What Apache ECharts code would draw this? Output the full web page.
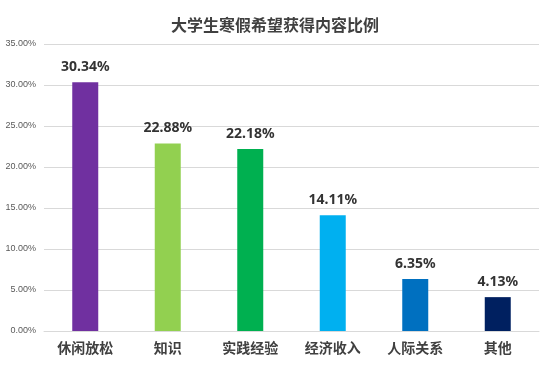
<!DOCTYPE html>
<html><head><meta charset="utf-8">
<script src="https://cdn.jsdelivr.net/npm/echarts@6/dist/echarts.min.js"></script>
<style>html,body{margin:0;padding:0;background:#fff}#c{width:550px;height:366px}</style>
</head><body><div id="c"></div>
<script>
const title = '大学生寒假希望获得内容比例';
const categories = ['休闲放松','知识','实践经验','经济收入','人际关系','其他'];
const values = [30.34, 22.88, 22.18, 14.11, 6.35, 4.13];
const colors = ['#7030A0','#92D050','#00B050','#00B0F0','#0070C0','#002060'];
const chart = echarts.init(document.getElementById('c'));
chart.setOption({
  animation:false,
  title:{text:title,left:'center',top:12,textStyle:{fontFamily:'Noto Sans CJK SC',fontSize:16,fontWeight:'bold',color:'#404040'}},
  grid:{left:44,right:11,top:44,bottom:35},
  xAxis:{type:'category',data:categories,
    axisLine:{lineStyle:{color:'#d9d9d9',width:1}},axisTick:{show:false},
    axisLabel:{fontFamily:'Noto Sans CJK SC',fontSize:14,fontWeight:'bold',color:'#404040',margin:10}},
  yAxis:{type:'value',min:0,max:35,interval:5,
    axisLine:{show:false},axisTick:{show:false},
    splitLine:{lineStyle:{color:'#d9d9d9'}},
    axisLabel:{formatter:v=>v.toFixed(2)+'%',fontFamily:'Liberation Sans',fontSize:9,color:'#595959',margin:8}},
  series:[{type:'bar',barWidth:26,
    data:values.map((v,i)=>({value:v,itemStyle:{color:colors[i]}})),
    label:{show:true,position:'top',distance:8,formatter:p=>p.value.toFixed(2)+'%',
      fontFamily:'Noto Sans',fontSize:14,fontWeight:'bold',color:'#333'}}]
});
</script></body></html>
